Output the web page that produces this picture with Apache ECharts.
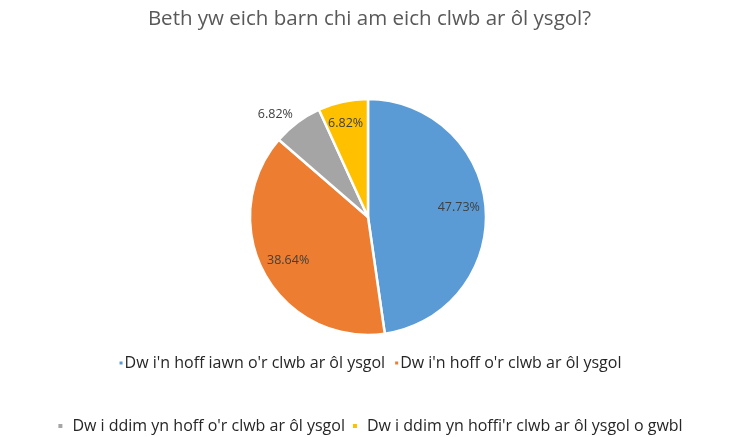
<!DOCTYPE html>
<html>
<head>
<meta charset="utf-8">
<script src="https://cdn.jsdelivr.net/npm/echarts@6/dist/echarts.min.js"></script>
<style>
  html, body { margin: 0; padding: 0; background: #fff; }
  #chart { width: 739px; height: 437px; }
</style>
</head>
<body>
<div id="chart"></div>
<script>
var titleText = 'Beth yw eich barn chi am eich clwb ar ôl ysgol?';
var categories = [
  "Dw i'n hoff iawn o'r clwb ar ôl ysgol",
  "Dw i'n hoff o'r clwb ar ôl ysgol",
  "Dw i ddim yn hoff o'r clwb ar ôl ysgol",
  "Dw i ddim yn hoffi'r clwb ar ôl ysgol o gwbl"
];
var values = [47.73, 38.64, 6.82, 6.82];
var colors = ['#5B9BD5', '#ED7D31', '#A5A5A5', '#FFC000'];

var font = 'Open Sans';
var chart = echarts.init(document.getElementById('chart'));

var pieData = categories.map(function (name, i) {
  return { name: name, value: values[i], itemStyle: { color: colors[i] } };
});

// label ring: same slices, invisible, only to place the percentage labels
var labelOffsets = [[0, -3], [0, 0], [3, -5], [-3, -5]];
var labelData = categories.map(function (name, i) {
  var item = { name: name, value: values[i], label: { offset: labelOffsets[i] } };
  if (i === 2) {
    item.label.position = 'outside';
  }
  return item;
});

var option = {
  animation: false,
  title: {
    text: titleText,
    left: 'center',
    top: 4,
    textStyle: {
      fontFamily: font,
      fontSize: 20.5,
      fontWeight: 'normal',
      color: '#595959'
    }
  },
  legend: [
    {
      data: categories.slice(0, 2),
      top: 350,
      left: 'center',
      icon: 'rect',
      itemWidth: 5,
      itemHeight: 5,
      itemGap: 8,
      textStyle: { fontFamily: font, fontSize: 16, color: '#262626', padding: [0, 0, 0, -4] }
    },
    {
      data: categories.slice(2),
      top: 413,
      left: 'center',
      icon: 'rect',
      itemWidth: 6,
      itemHeight: 6,
      itemGap: 6,
      textStyle: { fontFamily: font, fontSize: 16, color: '#262626', padding: [0, 0, 0, 4] }
    }
  ],
  series: [
    {
      type: 'pie',
      center: [368, 217],
      radius: [0, 118],
      startAngle: 90,
      clockwise: true,
      silent: true,
      itemStyle: { borderColor: '#fff', borderWidth: 2.5 },
      label: { show: false },
      labelLine: { show: false },
      data: pieData
    },
    {
      type: 'pie',
      center: [368, 217],
      radius: [58, 118],
      startAngle: 90,
      clockwise: true,
      silent: true,
      itemStyle: { color: 'transparent', borderWidth: 0 },
      label: {
        show: true,
        position: 'inside',
        formatter: function (p) { return p.value.toFixed(2) + '%'; },
        fontFamily: font,
        fontSize: 12.5,
        color: '#404040'
      },
      labelLine: { show: false, length: 4, length2: 0 },
      data: labelData
    }
  ]
};

chart.setOption(option);
</script>
</body>
</html>
